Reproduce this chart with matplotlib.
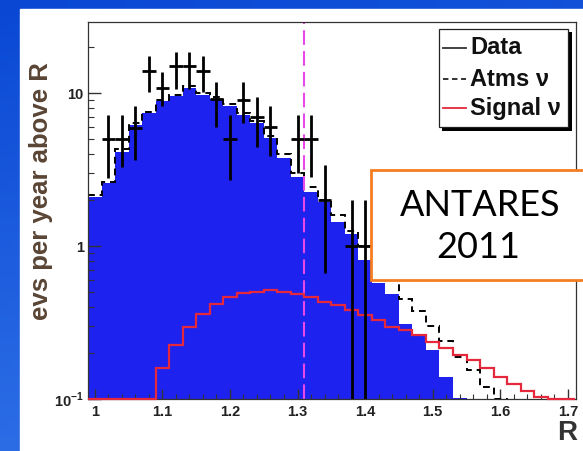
import numpy as np
import matplotlib
matplotlib.use('Agg')
import matplotlib.pyplot as plt
from matplotlib.patches import Rectangle
from matplotlib.lines import Line2D
from matplotlib.ticker import FixedLocator, FixedFormatter, NullFormatter, LogLocator, MultipleLocator

plt.rcParams['font.family'] = ['Liberation Sans', 'DejaVu Sans']
plt.rcParams['mathtext.fontset'] = 'custom'
plt.rcParams['mathtext.rm'] = 'Liberation Sans:bold'
plt.rcParams['mathtext.bf'] = 'Liberation Sans:bold'

# ---------------- data ----------------
bin_low, bin_width, n_bins = 0.99, 0.02, 36

# blue filled histogram (bin centres 1.00 ... 1.70)
blue_hist = [2.1, 2.58, 4.15, 6.2, 7.4, 8.9, 9.6, 10.9, 9.8, 9.2, 8.3, 7.2,
             6.4, 5.1, 3.8, 2.85, 2.25, 1.95, 1.45, 1.2, 0.82, 0.58, 0.49, 0.31,
             0.26, 0.21, 0.14, 0.102, 0, 0, 0, 0, 0, 0, 0, 0]
# atmospheric neutrinos (dashed)
atms_nu = [2.15, 2.65, 4.3, 6.4, 7.6, 9.1, 9.8, 11.1, 10.0, 9.4, 8.5, 7.4,
           6.6, 5.3, 4.0, 3.0, 2.45, 2.0, 1.6, 1.25, 1.0, 0.73, 0.63, 0.45,
           0.38, 0.30, 0.24, 0.19, 0.155, 0.12, 0.10, 0.085, 0.07, 0.06, 0.05, 0.05]
# signal neutrinos (red)
signal_nu = [0, 0, 0, 0, 0, 0.159, 0.225, 0.297, 0.363, 0.418, 0.466, 0.495,
             0.503, 0.516, 0.503, 0.486, 0.466, 0.433, 0.412, 0.382, 0.354, 0.328,
             0.297, 0.282, 0.262, 0.237, 0.218, 0.195, 0.182, 0.16, 0.14, 0.125,
             0.113, 0.103, 0, 0]

# data points
data_R = [1.02, 1.04, 1.06, 1.08, 1.10, 1.12, 1.14, 1.16, 1.18, 1.20, 1.22,
          1.24, 1.26, 1.30, 1.32, 1.34, 1.38, 1.40]
data_val = [5.0, 5.0, 5.9, 13.9, 10.8, 15.0, 15.0, 13.9, 9.2, 5.0, 9.0,
            7.0, 6.0, 5.0, 5.0, 2.0, 1.0, 1.0]
data_hi = [7.2, 7.2, 8.3, 17.5, 13.8, 18.6, 18.6, 17.5, 11.9, 7.2, 11.9,
           9.5, 8.3, 7.2, 7.2, 3.4, 2.0, 2.0]
data_lo = [2.8, 3.3, 3.65, 10.2, 8.3, 10.7, 10.7, 10.2, 6.0, 2.7, 6.4,
           4.45, 3.9, 3.0, 2.85, 0.67, 0.05, 0.05]

cut_R = 1.31
x_ticks = [1.0, 1.1, 1.2, 1.3, 1.4, 1.5, 1.6, 1.7]
x_ticklabels = ['1', '1.1', '1.2', '1.3', '1.4', '1.5', '1.6', '1.7']
y_ticks = [0.1, 1, 10]
y_ticklabels = [r'$10^{-1}$', '1', '10']
legend_labels = ['Data', 'Atms ν', 'Signal ν']

# ---------------- figure ----------------
W, H = 583, 451
fig = plt.figure(figsize=(W / 100, H / 100), dpi=100)

def fx(px):
    return px / W

def fy(py):
    return 1 - py / H

# slide background
bg = fig.add_axes([0, 0, 1, 1], zorder=-10)
bg.axis('off')
rows = np.linspace(0, 1, 60)[:, None]
cols = np.linspace(0, 1, 60)[None, :]
top_c = np.array([10, 72, 212]) / 255
bot_c = np.array([52, 118, 234]) / 255
t = np.clip(rows * 0.8 + cols * 0.2, 0, 1)[..., None]
grad = top_c * (1 - t) + bot_c * t
bg.imshow(grad, extent=[0, 1, 0, 1], aspect='auto', origin='upper')
bg.add_patch(Rectangle((fx(20), 0), 1 - fx(20), fy(9), color='white'))
bg.set_xlim(0, 1)
bg.set_ylim(0, 1)

ax = fig.add_axes([fx(88), fy(399.3), fx(576) - fx(88), fy(21.7) - fy(399.3)])
ax.set_facecolor('white')
ax.set_yscale('log')

edges = bin_low + bin_width * np.arange(n_bins + 1)
BLUE = '#1e22ee'
RED = '#e5283c'

ax.stairs(np.maximum(blue_hist, 1e-3), edges, fill=True, color=BLUE,
          baseline=1e-3, zorder=1)
ax.stairs(np.maximum(atms_nu, 1e-3), edges, color='black', lw=1.4,
          ls=(0, (3.5, 2.5)), baseline=None, zorder=2)
ax.axvline(cut_R, color='#e848e8', lw=1.5, ls=(0, (7, 3)), zorder=2.5)
ax.stairs(np.maximum(signal_nu, 0.1), edges, color=RED, lw=1.6,
          baseline=None, zorder=3, clip_on=False)

dv = np.array(data_val)
yerr = [dv - np.array(data_lo), np.array(data_hi) - dv]
ax.errorbar(data_R, data_val, yerr=yerr, xerr=bin_width / 2, fmt='none',
            ecolor='black', elinewidth=2, capsize=0, zorder=4)

ax.set_xlim(bin_low, 1.712)
ax.set_ylim(0.1, 29.4)

for s in ax.spines.values():
    s.set_linewidth(0.9)
    s.set_color('#333333')

ax.xaxis.set_major_locator(FixedLocator(x_ticks))
ax.xaxis.set_major_formatter(FixedFormatter(x_ticklabels))
ax.xaxis.set_minor_locator(MultipleLocator(0.02))
ax.yaxis.set_major_locator(FixedLocator(y_ticks))
ax.yaxis.set_major_formatter(FixedFormatter(y_ticklabels))
ax.yaxis.set_minor_locator(LogLocator(base=10, subs=np.arange(2, 10)))
ax.yaxis.set_minor_formatter(NullFormatter())
ax.tick_params(which='both', direction='in', top=False, right=False,
               color='#333333')
ax.tick_params(axis='x', which='major', length=7, width=1, pad=4)
ax.tick_params(axis='x', which='minor', length=3.5, width=0.8)
ax.tick_params(axis='y', which='major', length=9, width=1, pad=3)
ax.tick_params(axis='y', which='minor', length=4.5, width=0.8)
for lab in ax.get_xticklabels() + ax.get_yticklabels():
    lab.set_fontsize(10.5)
    lab.set_fontweight('bold')
    lab.set_color('#222222')

# axis titles
fig.text(fx(567), fy(433), 'R', ha='center', va='center', fontsize=20,
         fontweight='bold', color='#333333')
fig.text(fx(41), fy(191), 'evs per year above R', rotation=90, ha='center',
         va='center', fontsize=18.5, fontweight='bold', color='#5a4535')

# legend (ROOT style, with shadow)
fig.add_artist(Rectangle((fx(442), fy(131)), fx(572) - fx(442), fy(32) - fy(131),
                         transform=fig.transFigure, fc='black', ec='none', zorder=5))
fig.add_artist(Rectangle((fx(439), fy(127)), fx(568) - fx(439), fy(29) - fy(127),
                         transform=fig.transFigure, fc='white', ec='#222222',
                         lw=0.9, zorder=5.1))
leg_rows = [48, 79, 108]
leg_styles = [dict(color='#333333', ls='-'), dict(color='#222222', ls=(0, (3, 2))),
              dict(color=RED, ls='-')]
for yy, lab, st in zip(leg_rows, legend_labels, leg_styles):
    fig.add_artist(Line2D([fx(443), fx(466)], [fy(yy), fy(yy)], lw=1.3,
                          transform=fig.transFigure, zorder=5.2, **st))
    fig.text(fx(470), fy(yy), lab, ha='left', va='center', fontsize=17,
             fontweight='bold', color='#111111', zorder=5.2)

# ANTARES box
fig.add_artist(Rectangle((fx(371), fy(280)), fx(600) - fx(371), fy(170) - fy(280),
                         transform=fig.transFigure, fc='white', ec='#f47d20',
                         lw=2, zorder=6))
fig.text(fx(480), fy(205), 'ANTARES', ha='center', va='center', fontsize=26,
         family=['Lato', 'DejaVu Sans'], color='black', zorder=6.1)
fig.text(fx(478), fy(247), '2011', ha='center', va='center', fontsize=26,
         family=['Lato', 'DejaVu Sans'], color='black', zorder=6.1)

fig.savefig('out.png', dpi=100)
